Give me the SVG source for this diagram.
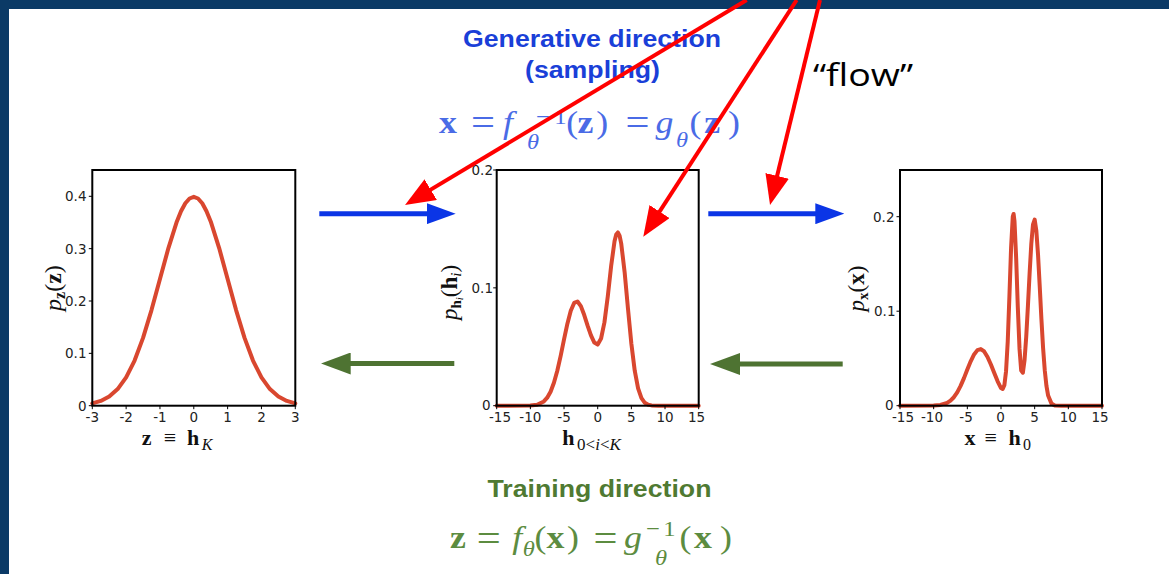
<svg xmlns="http://www.w3.org/2000/svg" width="1169" height="574" viewBox="0 0 1169 574">
<defs>
<style>
.ax{fill:none;stroke:#000;stroke-width:2}
.tk{stroke:#000;stroke-width:1}
.curve{fill:none;stroke:#d9472f;stroke-width:4;stroke-linejoin:round;stroke-linecap:round}
.tl{font-family:"DejaVu Sans",sans-serif;font-size:13.5px;fill:#222}
.m{font-family:"Liberation Serif","DejaVu Serif",serif}
.title{font-family:"Liberation Sans",Arial,sans-serif;font-weight:bold;font-size:23.5px}
.b{font-weight:bold}
.i{font-style:italic}
.blue{stroke:#0b35e6;stroke-width:5;fill:none}
.green{stroke:#4e7332;stroke-width:5;fill:none}
.red{stroke:#ff0000;stroke-width:4;fill:none}
</style>
<marker id="hb" markerUnits="userSpaceOnUse" viewBox="0 0 29 21" markerWidth="29" markerHeight="21" refX="19" refY="10.5" orient="auto"><path d="M0,0 L29,10.5 L0,21 z" fill="#0b35e6"/></marker>
<marker id="hg" markerUnits="userSpaceOnUse" viewBox="0 0 30 22" markerWidth="30" markerHeight="22" refX="20" refY="11" orient="auto"><path d="M0,0 L30,11 L0,22 z" fill="#4e7332"/></marker>
<marker id="hr" markerUnits="userSpaceOnUse" viewBox="0 0 30 24" markerWidth="30" markerHeight="24" refX="20" refY="12" orient="auto"><path d="M0,0 L30,12 L0,24 z" fill="#ff0000"/></marker>
</defs>
<rect width="1169" height="574" fill="#ffffff"/>
<g id="frame" fill="#0b3a66">
<rect x="0" y="0" width="1169" height="9"/>
<rect x="0" y="0" width="9" height="574"/>
</g>

<g id="generative-label">
<text class="title" x="592" y="46.7" text-anchor="middle" fill="#1a3fd8" textLength="258" lengthAdjust="spacingAndGlyphs">Generative direction</text>
<text class="title" x="592.5" y="78" text-anchor="middle" fill="#1a3fd8" textLength="135" lengthAdjust="spacingAndGlyphs">(sampling)</text>
<g transform="translate(590,0) scale(1.12,1) translate(-590,0)">
<text class="m" font-size="32" fill="#4a6be6" text-anchor="middle">
<tspan class="b" x="467.2" y="133">x</tspan>
<tspan x="498.5" y="135.5" font-size="38">=</tspan>
<tspan class="i" x="520.8" y="133">f</tspan>
<tspan class="i" x="543.1" y="149" font-size="22">θ</tspan>
<tspan x="552" y="124" font-size="22">−</tspan>
<tspan x="567.7" y="124" font-size="22">1</tspan>
<tspan x="578.1" y="133">(</tspan>
<tspan class="b" x="590" y="133">z</tspan>
<tspan x="604.9" y="133">)</tspan>
<tspan x="636.4" y="135.5" font-size="38">=</tspan>
<tspan class="i" x="660.5" y="133">g</tspan>
<tspan class="i" x="676.2" y="147" font-size="22">θ</tspan>
<tspan x="688.2" y="133">(</tspan>
<tspan class="b" x="703.1" y="133">z</tspan>
<tspan x="718.6" y="133">)</tspan>
</text>
</g>
</g>

<g id="flow-label">
<text x="813" y="86" font-family="Open Sans, Liberation Sans, sans-serif" font-size="31" fill="#000" textLength="100" lengthAdjust="spacingAndGlyphs">“flow”</text>
</g>

<g id="training-label">
<text class="title" x="599.5" y="496.7" text-anchor="middle" fill="#4f7a32" textLength="224" lengthAdjust="spacingAndGlyphs">Training direction</text>
<g transform="translate(595,0) scale(1.12,1) translate(-595,0)">
<text class="m" font-size="32" fill="#5c8c40" text-anchor="middle">
<tspan class="b" x="476.7" y="548.3">z</tspan>
<tspan x="504.2" y="550.8" font-size="38">=</tspan>
<tspan class="i" x="529.6" y="548.3">f</tspan>
<tspan class="i" x="539.9" y="556" font-size="22">θ</tspan>
<tspan x="550.4" y="548.3">(</tspan>
<tspan class="b" x="563.8" y="548.3">x</tspan>
<tspan x="579.4" y="548.3">)</tspan>
<tspan x="608.4" y="550.8" font-size="38">=</tspan>
<tspan class="i" x="633" y="548.3">g</tspan>
<tspan x="650.8" y="536" font-size="22">−</tspan>
<tspan x="665.5" y="536" font-size="22">1</tspan>
<tspan class="i" x="658" y="565" font-size="22">θ</tspan>
<tspan x="679.8" y="548.3">(</tspan>
<tspan class="b" x="695.5" y="548.3">x</tspan>
<tspan x="712" y="548.3">)</tspan>
</text>
</g>
</g>

<g id="plot-z">
<polyline class="curve" points="92.30,403.38 100.76,400.94 109.22,396.52 117.67,389.08 126.13,377.44 134.59,360.53 143.05,337.90 151.50,310.08 159.96,279.03 168.42,248.05 176.88,221.39 181.0,211.2 185.33,203.28 189.56,198.5 193.79,196.85 198.02,198.5 202.25,203.28 206.5,211.2 210.71,221.39 219.16,248.05 227.62,279.03 236.08,310.08 244.54,337.90 252.99,360.53 261.45,377.44 269.91,389.08 278.37,396.52 286.82,400.94 295.28,403.38"/>
<rect class="ax" x="92.3" y="170" width="203" height="235.7"/>
<path class="tk" d="M88.8,405.7H92.3M88.8,353.35H92.3M88.8,301H92.3M88.8,248.65H92.3M88.8,196.3H92.3M92.3,405.7V409.2M126.13,405.7V409.2M159.96,405.7V409.2M193.79,405.7V409.2M227.62,405.7V409.2M261.45,405.7V409.2M295.28,405.7V409.2"/>
<g class="tl" text-anchor="end">
<text x="86.5" y="410.7">0</text><text x="86.5" y="358.35">0.1</text><text x="86.5" y="306">0.2</text><text x="86.5" y="253.65">0.3</text><text x="86.5" y="201.3">0.4</text>
</g>
<g class="tl" text-anchor="middle">
<text x="92.3" y="422">-3</text><text x="126.13" y="422">-2</text><text x="159.96" y="422">-1</text><text x="193.79" y="422">0</text><text x="227.62" y="422">1</text><text x="261.45" y="422">2</text><text x="295.28" y="422">3</text>
</g>
<text class="m" font-size="22" fill="#111" text-anchor="middle"><tspan class="b" x="146.7" y="444.5">z</tspan><tspan x="170" y="444.5">≡</tspan><tspan class="b" x="193" y="444.5">h</tspan><tspan class="i" x="207" y="449.5" font-size="16">K</tspan></text>
<text class="m" font-size="24" fill="#111" text-anchor="middle" transform="translate(61,288) rotate(-90)"><tspan class="i">p</tspan><tspan class="b" font-size="16" dy="4">z</tspan><tspan dy="-4">(</tspan><tspan class="b">z</tspan>)</text>
</g>

<g id="plot-h">
<polyline class="curve" points="496.70,405.70 530.37,405.53 537.10,404.72 543.83,401.43 547.20,397.70 550.57,391.68 553.93,382.74 557.30,370.70 560.67,355.85 564.03,339.47 567.40,323.68 570.77,310.71 574.13,302.93 577.50,301.52 580.87,306.12 584.23,315.07 587.60,325.68 590.97,335.46 594.33,342.53 597.70,344.54 601.07,338.53 604.43,322.38 607.80,296.22 611.17,265.81 614.53,241.30 616.22,234.5 617.90,232.46 619.58,235.6 621.27,243.89 624.63,272.18 628.00,308.83 631.37,343.71 634.73,370.70 638.10,388.38 641.47,398.16 644.83,402.80 648.20,404.72 651.57,405.40 658.30,405.70 698.70,405.70"/>
<rect class="ax" x="496.7" y="170" width="202" height="235.7"/>
<path class="tk" d="M493.2,405.7H496.7M493.2,287.85H496.7M493.2,170H496.7M496.7,405.7V409.2M530.37,405.7V409.2M564.03,405.7V409.2M597.7,405.7V409.2M631.37,405.7V409.2M665.03,405.7V409.2M698.7,405.7V409.2"/>
<g class="tl" text-anchor="end">
<text x="490.5" y="409.5">0</text><text x="493" y="292.85">0.1</text><text x="493" y="175">0.2</text>
</g>
<g class="tl" text-anchor="middle">
<text x="500" y="422">-15</text><text x="530.37" y="422">-10</text><text x="564.03" y="422">-5</text><text x="597.7" y="422">0</text><text x="631.37" y="422">5</text><text x="665.03" y="422">10</text><text x="696.5" y="422">15</text>
</g>
<text class="m" font-size="22" fill="#111" text-anchor="middle"><tspan class="b" x="568.3" y="444.5">h</tspan><tspan x="599" y="449.5" font-size="17">0&lt;<tspan class="i">i</tspan>&lt;<tspan class="i">K</tspan></tspan></text>
<text class="m" font-size="23" fill="#111" text-anchor="middle" transform="translate(457,292.5) rotate(-90)"><tspan class="i">p</tspan><tspan class="b" font-size="15" dy="4">h</tspan><tspan class="i" font-size="11" dy="2">i</tspan><tspan dy="-6">(</tspan><tspan class="b">h</tspan><tspan class="i" font-size="15" dy="4">i</tspan><tspan dy="-4">)</tspan></text>
</g>

<g id="plot-x">
<polyline class="curve" points="900.00,405.70 933.67,405.55 940.40,404.96 947.13,402.87 950.50,400.66 953.87,397.23 957.23,392.34 960.60,385.88 963.97,378.11 967.33,369.60 970.70,361.32 974.07,354.45 977.43,350.12 980.80,349.07 984.17,351.49 987.53,356.96 990.90,364.53 994.27,373.02 997.63,381.34 1001.00,388.03 1002.68,388.97 1004.37,385.19 1006.05,371.21 1007.73,341.53 1009.42,296.17 1011.10,247.32 1012.78,216.70 1013.62,213.96 1014.47,220.95 1016.15,257.81 1017.83,307.61 1019.52,348.91 1021.20,370.55 1022.88,372.72 1024.57,359.87 1026.25,336.34 1027.93,305.91 1029.62,273.12 1031.30,243.92 1032.98,224.64 1034.67,219.53 1036.35,230.78 1038.03,254.69 1039.72,286.16 1041.40,318.85 1043.08,347.87 1044.77,370.40 1046.45,385.92 1048.13,395.54 1051.50,403.63 1054.87,405.42 1061.60,405.70 1102.00,405.70"/>
<rect class="ax" x="900" y="170" width="202" height="235.7"/>
<path class="tk" d="M896.5,405.7H900M896.5,311.2H900M896.5,216.7H900M900,405.7V409.2M933.67,405.7V409.2M967.33,405.7V409.2M1001,405.7V409.2M1034.67,405.7V409.2M1068.33,405.7V409.2M1102,405.7V409.2"/>
<g class="tl" text-anchor="end">
<text x="893.5" y="409.5">0</text><text x="895.5" y="316.2">0.1</text><text x="894.5" y="221.7">0.2</text>
</g>
<g class="tl" text-anchor="middle">
<text x="903" y="422">-15</text><text x="932" y="422">-10</text><text x="966" y="422">-5</text><text x="1000.5" y="422">0</text><text x="1034.67" y="422">5</text><text x="1068.33" y="422">10</text><text x="1100" y="422">15</text>
</g>
<text class="m" font-size="22" fill="#111" text-anchor="middle"><tspan class="b" x="970" y="444.5">x</tspan><tspan x="990.8" y="444.5">≡</tspan><tspan class="b" x="1014.5" y="444.5">h</tspan><tspan x="1027" y="449.5" font-size="16">0</tspan></text>
<text class="m" font-size="23" fill="#111" text-anchor="middle" transform="translate(864,288.5) rotate(-90)"><tspan class="i">p</tspan><tspan class="b" font-size="15" dy="4">x</tspan><tspan dy="-4">(</tspan><tspan class="b">x</tspan>)</text>
</g>

<g id="connectors">
<line class="blue" x1="319.3" y1="213.7" x2="445.7" y2="213.7" marker-end="url(#hb)"/>
<line class="blue" x1="708.3" y1="213.7" x2="834.3" y2="213.7" marker-end="url(#hb)"/>
<line class="green" x1="454.3" y1="363.5" x2="330.7" y2="363.5" marker-end="url(#hg)"/>
<line class="green" x1="842.7" y1="364" x2="720" y2="364" marker-end="url(#hg)"/>
<line class="red" x1="746.7" y1="0" x2="413.6" y2="199.9" marker-end="url(#hr)"/>
<line class="red" x1="796.7" y1="0" x2="648.7" y2="228.3" marker-end="url(#hr)"/>
<line class="red" x1="820" y1="0" x2="772.4" y2="195.3" marker-end="url(#hr)"/>
</g>
</svg>
